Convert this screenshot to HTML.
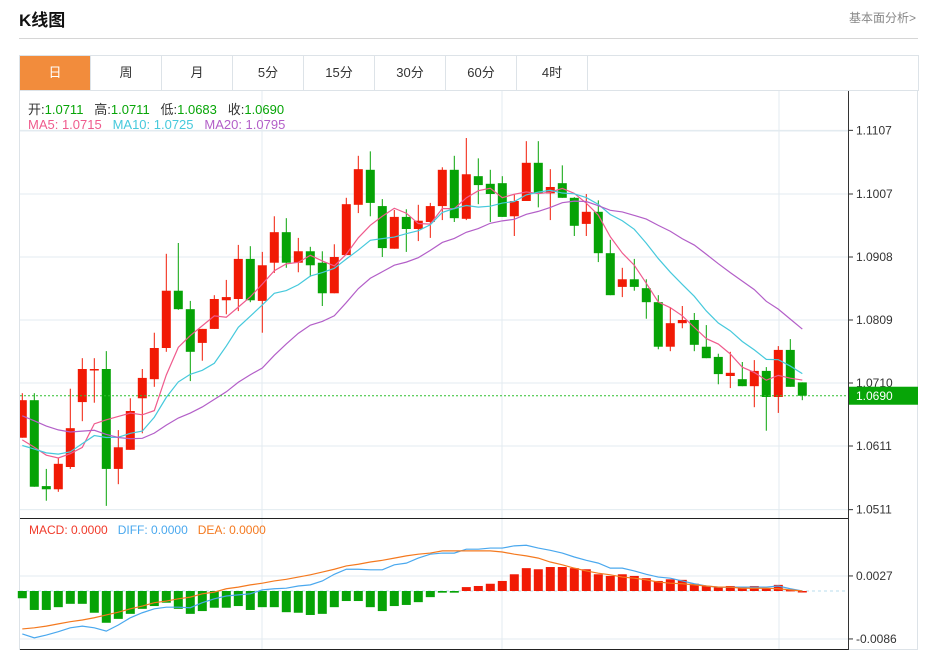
<!DOCTYPE html>
<html><head><meta charset="utf-8">
<style>
body{margin:0;background:#fff;width:929px;height:654px;overflow:hidden;font-family:"Liberation Sans","Noto Sans CJK SC",sans-serif;}
#title{position:absolute;left:19px;top:6px;font-size:17px;font-weight:bold;color:#111;}
#more{position:absolute;right:13px;top:9px;font-size:12px;color:#888;}
#sep{position:absolute;left:19px;top:38px;width:899px;height:1px;background:#d6d6d6;}
#tabs{position:absolute;left:19px;top:55px;width:898px;height:34px;border:1px solid #dde3e8;display:flex;}
.tab{width:70px;height:34px;line-height:34px;text-align:center;font-size:13px;color:#333;border-right:1px solid #dde3e8;}
.tab.on{background:#f28c3c;color:#fff;}
svg{position:absolute;left:0;top:0;}
</style></head><body>
<div id="title">K线图</div>
<div id="more">基本面分析&gt;</div>
<div id="sep"></div>
<div id="tabs">
<div class="tab on">日</div>
<div class="tab">周</div>
<div class="tab">月</div>
<div class="tab">5分</div>
<div class="tab">15分</div>
<div class="tab">30分</div>
<div class="tab">60分</div>
<div class="tab">4时</div>
</div>
<svg id="chart" width="929" height="654"></svg>
<script>
const opens=[1.0624,1.0683,1.0548,1.0543,1.0578,1.0680,1.0730,1.0732,1.0575,1.0605,1.0686,1.0716,1.0765,1.0855,1.0826,1.0773,1.0795,1.0840,1.0842,1.0905,1.0839,1.0899,1.0947,1.0899,1.0917,1.0899,1.0851,1.0911,1.0990,1.1045,1.0988,1.0921,1.0971,1.0952,1.0963,1.0988,1.1045,1.0968,1.1035,1.1023,1.1024,1.0972,1.0996,1.1056,1.1008,1.1024,1.1001,1.0960,1.0979,1.0914,1.0861,1.0873,1.0859,1.0837,1.0767,1.0804,1.0809,1.0767,1.0751,1.0721,1.0716,1.0705,1.0729,1.0688,1.0762,1.0711];
const closes=[1.0683,1.0547,1.0543,1.0583,1.0639,1.0732,1.0732,1.0575,1.0609,1.0666,1.0718,1.0765,1.0855,1.0826,1.0759,1.0795,1.0842,1.0845,1.0905,1.0840,1.0895,1.0947,1.0899,1.0917,1.0895,1.0851,1.0908,1.0991,1.1046,1.0993,1.0922,1.0971,1.0952,1.0965,1.0988,1.1045,1.0969,1.1038,1.1021,1.1007,1.0971,1.0996,1.1056,1.1008,1.1018,1.1001,1.0957,1.0979,1.0914,1.0848,1.0873,1.0861,1.0837,1.0767,1.0804,1.0809,1.0770,1.0749,1.0724,1.0726,1.0705,1.0729,1.0688,1.0762,1.0704,1.0690];
const highs=[1.0694,1.0694,1.0575,1.0592,1.0701,1.0749,1.0749,1.0760,1.0636,1.0686,1.0732,1.0789,1.0913,1.0930,1.0839,1.0795,1.0848,1.0872,1.0927,1.0925,1.0916,1.0972,1.0969,1.0938,1.0924,1.0917,1.0928,1.1001,1.1067,1.1074,1.0999,1.0982,1.0983,1.0990,1.0993,1.1049,1.1067,1.1095,1.1063,1.1045,1.1035,1.1007,1.1090,1.1090,1.1046,1.1052,1.1002,1.1007,1.0997,1.0935,1.0891,1.0905,1.0873,1.0848,1.0829,1.0831,1.0820,1.0801,1.0756,1.0759,1.0743,1.0746,1.0735,1.0768,1.0779,1.0711];
const lows=[1.0624,1.0547,1.0525,1.0539,1.0575,1.0650,1.0679,1.0517,1.0551,1.0605,1.0631,1.0704,1.0759,1.0825,1.0713,1.0745,1.0795,1.0818,1.0823,1.0837,1.0789,1.0883,1.0891,1.0884,1.0877,1.0831,1.0851,1.0911,1.0977,1.0972,1.0908,1.0921,1.0916,1.0933,1.0938,1.0966,1.0963,1.0966,1.0991,1.0963,1.0971,1.0941,1.0996,1.0986,1.0966,1.1001,1.0941,1.0941,1.0900,1.0848,1.0845,1.0855,1.0811,1.0763,1.0760,1.0796,1.0760,1.0749,1.0708,1.0702,1.0705,1.0672,1.0635,1.0663,1.0704,1.0683];
const priorCloses=[1.0705,1.0705,1.0705,1.0705,1.0705,1.0705,1.0705,1.0705,1.0705,1.0705,1.0603,1.0603,1.0603,1.0603,1.0603,1.0605,1.0605,1.0605,1.0605];
const priceTicks=[1.1107,1.1007,1.0908,1.0809,1.0710,1.0611,1.0511];
const macdHist=[-13,-34,-34,-29,-23,-23,-39,-57,-50,-41,-32,-27,-21,-32,-41,-36,-30,-30,-27,-34,-29,-29,-38,-39,-43,-41,-29,-18,-18,-29,-36,-27,-25,-20,-11,-3,-3,7,9,13,18,30,41,39,43,43,41,39,30,27,30,27,23,18,21,20,13,9,7,9,7,9,5,11,2,0];
const diffVals=[-77,-84,-79,-73,-66,-63,-66,-72,-61,-48,-39,-32,-29,-29,-30,-21,-14,-9,-7,-5,2,4,5,9,11,18,30,39,39,38,38,47,50,59,66,68,68,75,75,77,77,81,82,77,73,68,61,55,50,41,41,36,30,25,23,18,13,9,7,7,7,7,7,9,4,0];
const deaVals=[-68,-66,-63,-59,-55,-52,-48,-43,-38,-32,-27,-21,-18,-14,-11,-5,-2,4,7,11,14,18,21,25,29,34,39,45,48,52,55,59,63,66,68,72,72,72,72,72,70,66,63,59,52,47,41,36,32,29,25,23,20,16,14,13,11,9,7,7,5,5,5,4,2,0];
const macdTicks=[0.0027,-0.0086];
const lastPrice=1.0690;

const NS="http://www.w3.org/2000/svg";
const svg=document.getElementById('chart');
function mk(tag,attrs,parent){const e=document.createElementNS(NS,tag);for(const k in attrs)e.setAttribute(k,attrs[k]);(parent||svg).appendChild(e);return e;}
const xAt=i=>22.3+12*i;
const yP=p=>383-(p-1.0710)*6364;
const yM=v=>591-v*1e-4*5575;
const L=20,R=848;

// frame
let f=mk('rect',{x:19.5,y:90.5,width:898,height:559,fill:'none',stroke:'#dde3e8'});


// grids
priceTicks.forEach(t=>{const g=mk('line',{x1:L,x2:R,y1:yP(t),y2:yP(t),stroke:'#e3ebf0'});

});
mk('line',{x1:L,x2:R,y1:131,y2:131,stroke:'#e3ebf0'});
[262,502,779].forEach(x=>{mk('line',{x1:x,x2:x,y1:91,y2:649,stroke:'#e3ebf0'});});
macdTicks.forEach(t=>{const g=mk('line',{x1:L,x2:R,y1:yM(t*1e4),y2:yM(t*1e4),stroke:'#e3ebf0'});

});
mk('line',{x1:L,x2:R,y1:591,y2:591,stroke:'#b9dcec','stroke-dasharray':'3,3'});
// separators
mk('line',{x1:L,x2:R,y1:518.5,y2:518.5,stroke:'#222'});
mk('line',{x1:L,x2:R,y1:649.5,y2:649.5,stroke:'#222'});
mk('line',{x1:848.5,x2:848.5,y1:91,y2:650,stroke:'#333'});
// price axis labels
priceTicks.forEach(t=>{const y=yP(t);
mk('line',{x1:848,x2:853,y1:y,y2:y,stroke:'#333'});
const tx=mk('text',{x:856,y:y+4,'font-size':12,fill:'#333'});tx.textContent=t.toFixed(4);

});
macdTicks.forEach(t=>{const y=yM(t*1e4);
mk('line',{x1:848,x2:853,y1:y,y2:y,stroke:'#333'});
const tx=mk('text',{x:856,y:y+4,'font-size':12,fill:'#333'});tx.textContent=t.toFixed(4);

});

const clip=mk('clipPath',{id:'cp'});mk('rect',{x:L,y:91,width:R-L,height:427},clip);
const gM=mk('g',{'clip-path':'url(#cp)'});


// candles
closes.forEach((c,i)=>{const o=opens[i];const up=c>=o;const col=up?'#f11a05':'#06a306';const x=xAt(i);
const w=mk('line',{x1:x,x2:x,y1:yP(highs[i]),y2:yP(lows[i]),stroke:col,'stroke-width':1},gM);


const yt=yP(Math.max(o,c)),yb=yP(Math.min(o,c));
const b=mk('rect',{x:x-4.5,y:yt,width:9,height:Math.max(1.5,yb-yt),fill:col},gM);

});
// MAs
const all=priorCloses.concat(closes);
function ma(n){return closes.map((c,i)=>{const k=i+priorCloses.length;let s=0;for(let j=k-n+1;j<=k;j++)s+=all[j];return s/n;});}
[[5,'#ef5b8d','ma5-line'],[10,'#46c9dc','ma10-line'],[20,'#b35fc8','ma20-line']].forEach(([n,col,name])=>{
const pts=ma(n).map((v,i)=>xAt(i)+','+yP(v)).join(' ');
const pl=mk('polyline',{points:pts,fill:'none',stroke:col,'stroke-width':1.2},gM);

});
// last price line
mk('line',{x1:L,x2:R,y1:yP(lastPrice),y2:yP(lastPrice),stroke:'#2fbf2f','stroke-dasharray':'2,2'});
const lb=mk('rect',{x:849,y:yP(lastPrice)-9,width:69,height:18,fill:'#07a507'});


const lt=mk('text',{x:856,y:yP(lastPrice)+4.5,'font-size':12,fill:'#fff'});lt.textContent=lastPrice.toFixed(4);

// MACD
macdHist.forEach((v,i)=>{const x=xAt(i);const y0=591,y1=yM(v);
const b=mk('rect',{x:x-4.5,y:Math.min(y0,y1),width:9,height:Math.max(1.5,Math.abs(y1-y0)),fill:v>=0?'#f11a05':'#06a306'});

});
[[diffVals,'#4aa8ee','diff-line'],[deaVals,'#f4791f','dea-line']].forEach(([arr,col,name])=>{
const pl=mk('polyline',{points:arr.map((v,i)=>xAt(i)+','+yM(v)).join(' '),fill:'none',stroke:col,'stroke-width':1.2});

});
</script>
<div style="position:absolute;left:28px;top:99px;font-size:13px;color:#333;white-space:pre">开:<span style="color:#07a507">1.0711</span>   高:<span style="color:#07a507">1.0711</span>   低:<span style="color:#07a507">1.0683</span>   收:<span style="color:#07a507">1.0690</span></div>
<div style="position:absolute;left:28px;top:117px;font-size:13px;white-space:pre"><span style="color:#ef5b8d">MA5: 1.0715</span>   <span style="color:#46c9dc">MA10: 1.0725</span>   <span style="color:#b35fc8">MA20: 1.0795</span></div>
<div style="position:absolute;left:29px;top:523px;font-size:12px;white-space:pre"><span style="color:#f03a2a">MACD: 0.0000</span>   <span style="color:#4aa8ee">DIFF: 0.0000</span>   <span style="color:#f4791f">DEA: 0.0000</span></div>
</body></html>
